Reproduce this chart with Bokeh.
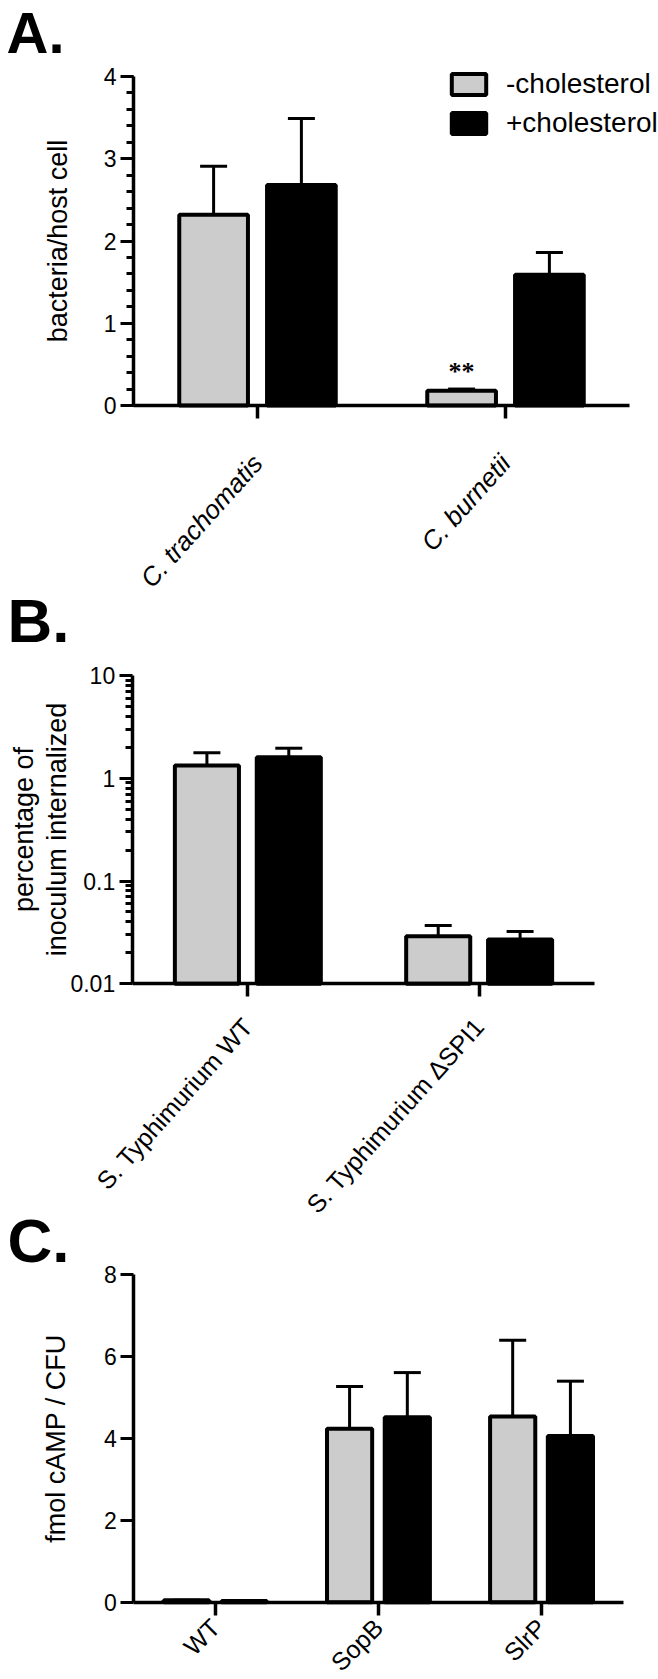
from bokeh.plotting import figure
from bokeh.models import (ColumnDataSource, Range1d, SingleIntervalTicker, FixedTicker,
                          CustomJSTickFormatter, Label, LinearAxis, LogAxis, LinearScale,
                          LogScale)
from bokeh.transform import dodge
from bokeh.embed import file_html
from bokeh.resources import INLINE
import math

FONT = "Liberation Sans"
GRAY = "#cccccc"
BLACK = "#000000"
FIG_W, FIG_H = 658, 1679

# ---------------- data ----------------
# Panel A: bacteria / host cell
a_cats = ["C. trachomatis", "C. burnetii"]
a_minus = [2.32, 0.18]
a_minus_err = [0.59, 0.02]
a_plus = [2.68, 1.59]
a_plus_err = [0.81, 0.27]
a_sig = ["", "**"]

# Panel B: percentage of inoculum internalized (log)
b_cats = ["S. Typhimurium WT", "S. Typhimurium \u0394SPI1"]
b_minus = [1.33, 0.029]
b_minus_err = [0.44, 0.0079]
b_plus = [1.60, 0.027]
b_plus_err = [0.36, 0.0053]

# Panel C: fmol cAMP / CFU
c_cats = ["WT", "SopB", "SlrP"]
c_minus = [0.05, 4.24, 4.54]
c_minus_err = [0.0, 1.03, 1.86]
c_plus = [0.03, 4.52, 4.06]
c_plus_err = [0.0, 1.09, 1.34]

series_names = ["-cholesterol", "+cholesterol"]

OFF = 0.177
W = 0.277
MID = 0.3465  # distance (in em) from baseline to the middle of the text box

# One canvas; each panel gets its own pair of ranges (frame = whole canvas,
# axes drawn at fixed locations inside it).
p = figure(width=FIG_W, height=FIG_H, output_backend="svg", toolbar_location=None,
           min_border=0, background_fill_color="white", border_fill_color="white")
p.grid.grid_line_color = None
p.outline_line_color = None
for ax in list(p.xaxis) + list(p.yaxis):
    ax.visible = False


class Panel:
    def __init__(self, name, cats, axis_x, cat_w, base_py, ymin, ymax, px_per, log=False):
        self.name, self.cats, self.axis_x, self.cat_w = name, cats, axis_x, cat_w
        self.base_py, self.ymin, self.ymax, self.px_per, self.log = base_py, ymin, ymax, px_per, log
        xr = Range1d(self.xdata(0), self.xdata(FIG_W))
        yr = Range1d(self.ydata(FIG_H), self.ydata(0))
        if name == "default":
            p.x_range = xr
            p.y_range = yr
        else:
            p.extra_x_ranges[name] = xr
            p.extra_y_ranges[name] = yr
            p.extra_x_scales[name] = LinearScale()
            p.extra_y_scales[name] = LogScale() if log else LinearScale()
        self.rk = dict(x_range_name=name, y_range_name=name)

    def xdata(self, px):
        return (px - self.axis_x) / self.cat_w

    def ydata(self, py):
        d = (self.base_py - py) / self.px_per
        return self.ymin * 10 ** d if self.log else self.ymin + d

    def bars(self, minus, minus_err, plus, plus_err, legend=False):
        xs = [i + 0.5 for i in range(len(self.cats))]
        src_m = ColumnDataSource(dict(x=xs, val=minus,
                                      upper=[v + e for v, e in zip(minus, minus_err)]))
        src_p = ColumnDataSource(dict(x=xs, val=plus,
                                      upper=[v + e for v, e in zip(plus, plus_err)]))
        xm = dodge("x", -OFF)
        xp = dodge("x", OFF)
        for src, xx in ((src_m, xm), (src_p, xp)):
            p.segment(x0=xx, y0="val", x1=xx, y1="upper", source=src,
                      line_color=BLACK, line_width=3, **self.rk)
            p.scatter(x=xx, y="upper", source=src, marker="dash", size=27,
                      line_color=BLACK, line_width=3, **self.rk)
        kw_m = dict(legend_label=series_names[0]) if legend else {}
        kw_p = dict(legend_label=series_names[1]) if legend else {}
        p.vbar(x=xm, top="val", bottom=self.ymin, width=W, source=src_m,
               fill_color=GRAY, line_color=BLACK, line_width=4, **self.rk, **kw_m)
        p.vbar(x=xp, top="val", bottom=self.ymin, width=W, source=src_p,
               fill_color=BLACK, line_color=BLACK, line_width=4, **self.rk, **kw_p)

    def axes(self, yticker, ylabel, ylabel_standoff, xfont, italic, orient, xstandoff,
             yformatter=None, minor=True):
        ax = (LogAxis if self.log else LinearAxis)(**self.rk)
        ax.fixed_location = 0
        ax.bounds = (float(self.ymin), float(self.ymax))
        ax.ticker = yticker
        if yformatter is not None:
            ax.formatter = yformatter
        ax.axis_line_width = 3.5
        ax.axis_line_color = BLACK
        ax.major_tick_line_width = 3
        ax.major_tick_in = 0
        ax.major_tick_out = 13
        ax.minor_tick_line_width = 3
        ax.minor_tick_in = 0
        ax.minor_tick_out = 7
        if not minor:
            ax.minor_tick_line_color = None
        ax.major_label_text_font = FONT
        ax.major_label_text_font_size = "23px"
        ax.major_label_text_color = BLACK
        ax.major_label_standoff = 4
        ax.axis_label = ylabel
        ax.axis_label_text_font = FONT
        ax.axis_label_text_font_size = "27px"
        ax.axis_label_text_font_style = "normal"
        ax.axis_label_text_color = BLACK
        ax.axis_label_text_line_height = 1.1
        ax.axis_label_standoff = ylabel_standoff
        p.add_layout(ax, "left")

        bx = LinearAxis(**self.rk)
        bx.fixed_location = self.ymin
        bx.bounds = (0.0, float(len(self.cats)))
        bx.ticker = FixedTicker(ticks=[i + 0.5 for i in range(len(self.cats))])
        bx.formatter = CustomJSTickFormatter(args=dict(cats=self.cats),
                                             code="return cats[Math.floor(tick)]")
        bx.minor_tick_line_color = None
        bx.axis_line_width = 3.5
        bx.axis_line_color = BLACK
        bx.major_tick_line_width = 3.5
        bx.major_tick_in = 0
        bx.major_tick_out = 13
        bx.major_label_text_font = FONT
        bx.major_label_text_font_size = xfont
        bx.major_label_text_font_style = "italic" if italic else "normal"
        bx.major_label_text_color = BLACK
        bx.major_label_orientation = orient
        bx.major_label_standoff = xstandoff
        p.add_layout(bx, "below")

    def letter(self, text, px, baseline_py, size):
        mid_py = baseline_py - MID * size
        p.add_layout(Label(x=self.xdata(px), y=self.ydata(mid_py), text=text,
                           text_font=FONT, text_font_size=f"{size}px",
                           text_font_style="bold", text_color=BLACK,
                           text_align="left", text_baseline="middle", **self.rk))


# ---------------- Panel A ----------------
A = Panel("default", a_cats, 133, 248, 405, 0, 4, 82.25)
A.bars(a_minus, a_minus_err, a_plus, a_plus_err, legend=True)
A.axes(SingleIntervalTicker(interval=1, num_minor_ticks=5), "bacteria/host cell", 28,
       "26px", True, 0.84, 40)
src_sig = ColumnDataSource(dict(x=[i + 0.5 for i in range(len(a_cats))], val=a_minus, sig=a_sig))
p.text(x=dodge("x", -OFF), y="val", text="sig", source=src_sig,
       text_align="center", text_baseline="middle", y_offset=-19,
       text_font_size="26px", text_font_style="bold", text_color=BLACK, text_font=FONT)
lg = p.legend[0]
lg.location = (447, FIG_H - 67.7 - 71)
lg.glyph_width = 43
lg.glyph_height = 26
lg.label_height = 26
lg.label_standoff = 16
lg.spacing = 7
lg.padding = 0
lg.margin = 0
lg.border_line_color = None
lg.background_fill_alpha = 0
lg.label_text_font = FONT
lg.label_text_font_size = "28px"
lg.label_text_color = BLACK
A.letter("A.", 6, 52.5, 58)

# ---------------- Panel B ----------------
B = Panel("b", b_cats, 131.7, 231.3, 983.3, 0.01, 10, 102.77, log=True)
B.bars(b_minus, b_minus_err, b_plus, b_plus_err)
major_b = [0.01, 0.1, 1, 10]
minor_b = [k * m for m in (0.01, 0.1, 1) for k in range(2, 10)]
B.axes(FixedTicker(ticks=major_b, minor_ticks=minor_b), "percentage of\ninoculum internalized",
       -4, "25px", False, 0.84, 25, yformatter=CustomJSTickFormatter(code="return String(tick)"))
B.letter("B.", 7, 641.7, 62)

# ---------------- Panel C ----------------
C = Panel("c", c_cats, 133.3, 163.1, 1601.7, 0, 8, 40.93)
C.bars(c_minus, c_minus_err, c_plus, c_plus_err)
C.axes(SingleIntervalTicker(interval=2, num_minor_ticks=0), "fmol cAMP / CFU", 30,
       "25px", False, math.pi / 4, 8, minor=False)
C.letter("C.", 7, 1261.7, 62)

open("out.html", "w").write(file_html(p, INLINE))
